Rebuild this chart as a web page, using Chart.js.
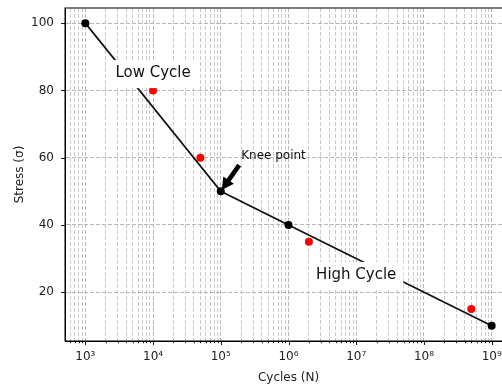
<!DOCTYPE html>
<html>
<head>
<meta charset="utf-8">
<script src="https://cdn.jsdelivr.net/npm/chart.js@4"></script>
<style>
  html, body { margin: 0; padding: 0; background: #fff; overflow: hidden; }
  #wrap { width: 530px; height: 390px; }
</style>
</head>
<body>
<div id="wrap"><canvas id="snCurve" width="530" height="390"></canvas></div>
<script>
// S-N curve data
const fitCycles = [1e3, 1e5, 1e6, 1e9];
const fitStress = [100, 50, 40, 10];
const testCycles = [1e4, 5e4, 2e6, 5e8];
const testStress = [80, 60, 35, 15];
const xExponents = [3, 4, 5, 6, 7, 8, 9];
const yTicks = [20, 40, 60, 80, 100];
const notes = [
  { text: 'Low Cycle', x: 1e4, y: 85 },
  { text: 'High Cycle', x: 1e7, y: 25 }
];
const knee = { text: 'Knee point', x: 2e5, y: 60, toX: 1e5, toY: 50 };

const sup = { '0': '⁰', '1': '¹', '2': '²', '3': '³', '4': '⁴', '5': '⁵', '6': '⁶', '7': '⁷', '8': '⁸', '9': '⁹' };
const FONT = 'DejaVu Sans';
const xMin = Math.pow(10, 2.7), xMax = Math.pow(10, 9.3);

function isMajor(v) {
  const e = Math.log10(v);
  return Math.abs(e - Math.round(e)) < 1e-9;
}

function noPad(scale) {
  scale.paddingTop = 0;
  scale.paddingBottom = 0;
  scale.paddingLeft = 0;
  scale.paddingRight = 0;
}

const annotatePlugin = {
  id: 'annotate',
  afterDatasetsDraw(chart) {
    const { ctx, chartArea: a, scales: { x, y } } = chart;
    ctx.save();
    // top and right spines
    ctx.strokeStyle = '#000';
    ctx.lineWidth = 1;
    ctx.strokeRect(a.left, a.top, a.right - a.left, a.bottom - a.top);

    // tick marks
    ctx.beginPath();
    x.ticks.forEach(t => {
      const px = Math.round(x.getPixelForValue(t.value)) + 0.5;
      const len = isMajor(t.value) ? 4 : 2.2;
      ctx.moveTo(px, a.bottom);
      ctx.lineTo(px, a.bottom + len);
    });
    y.ticks.forEach(t => {
      const py = Math.round(y.getPixelForValue(t.value)) + 0.5;
      ctx.moveTo(a.left, py);
      ctx.lineTo(a.left - 4, py);
    });
    ctx.lineWidth = 0.9;
    ctx.stroke();

    // boxed labels
    ctx.font = '15px "' + FONT + '"';
    ctx.textAlign = 'center';
    ctx.textBaseline = 'middle';
    notes.forEach(n => {
      const px = x.getPixelForValue(n.x);
      const py = y.getPixelForValue(n.y);
      const w = ctx.measureText(n.text).width + 14;
      const h = 28;
      ctx.fillStyle = '#fff';
      ctx.fillRect(px - w / 2, py - h / 2 + 0.5, w, h);
      ctx.fillStyle = '#111';
      ctx.fillText(n.text, px, py);
    });

    // knee annotation
    const tx = x.getPixelForValue(knee.x);
    const ty = y.getPixelForValue(knee.y);
    ctx.font = '12px "' + FONT + '"';
    ctx.textAlign = 'left';
    ctx.textBaseline = 'alphabetic';
    ctx.fillStyle = '#111';
    ctx.fillText(knee.text, tx, ty + 1.5);

    const ex = x.getPixelForValue(knee.toX);
    const ey = y.getPixelForValue(knee.toY);
    const sx = tx - 1, sy = ty + 6;
    const dx = ex - sx, dy = ey - sy;
    const L = Math.hypot(dx, dy);
    const ux = dx / L, uy = dy / L;
    const sh = 0.05 * L;
    const ax = sx + ux * sh, ay = sy + uy * sh;
    const bx = ex - ux * sh, by = ey - uy * sh;
    const nx = -uy, ny = ux;
    const hw = 6.5, sw = 2.3, hl = 12;
    const hx = bx - ux * hl, hy = by - uy * hl;
    ctx.beginPath();
    ctx.moveTo(ax + nx * sw, ay + ny * sw);
    ctx.lineTo(hx + nx * sw, hy + ny * sw);
    ctx.lineTo(hx + nx * hw, hy + ny * hw);
    ctx.lineTo(bx, by);
    ctx.lineTo(hx - nx * hw, hy - ny * hw);
    ctx.lineTo(hx - nx * sw, hy - ny * sw);
    ctx.lineTo(ax - nx * sw, ay - ny * sw);
    ctx.closePath();
    ctx.fillStyle = '#000';
    ctx.fill();
    ctx.restore();
  }
};

new Chart(document.getElementById('snCurve'), {
  type: 'line',
  data: {
    datasets: [
      {
        label: 'S-N curve',
        data: fitCycles.map((c, i) => ({ x: c, y: fitStress[i] })),
        borderColor: '#111',
        backgroundColor: '#000',
        borderWidth: 1.7,
        pointRadius: 4,
        pointBorderWidth: 0,
        tension: 0
      },
      {
        label: 'Test data',
        data: testCycles.map((c, i) => ({ x: c, y: testStress[i] })),
        showLine: false,
        backgroundColor: '#ff0000',
        borderColor: '#ff0000',
        pointRadius: 4,
        pointBorderWidth: 0
      }
    ]
  },
  options: {
    responsive: false,
    animation: false,
    layout: { padding: { left: 0, top: 8, right: 18, bottom: 0 } },
    plugins: { legend: { display: false }, tooltip: { enabled: false } },
    scales: {
      x: {
        type: 'logarithmic',
        min: xMin,
        max: xMax,
        afterBuildTicks(scale) {
          const ticks = [];
          for (let e = 2; e <= 9; e++) {
            for (let m = 1; m <= 9; m++) {
              const v = m * Math.pow(10, e);
              if (v >= xMin && v <= xMax) ticks.push({ value: v });
            }
          }
          scale.ticks = ticks;
        },
        afterFit(scale) { scale.height = 49; noPad(scale); },
        ticks: {
          autoSkip: false,
          maxRotation: 0,
          padding: 9,
          color: '#222',
          font: { family: FONT, size: 12 },
          callback(v) {
            if (!isMajor(v)) return '';
            const e = Math.round(Math.log10(v));
            if (!xExponents.includes(e)) return '';
            return '10' + String(e).split('').map(d => sup[d]).join('');
          }
        },
        grid: {
          drawTicks: false,
          color: ctx => isMajor(ctx.tick.value) ? '#b0b0b0' : '#bdbdbd',
          lineWidth: ctx => isMajor(ctx.tick.value) ? 0.9 : 0.8
        },
        border: { display: true, color: '#000', width: 1, dash: [4, 2] },
        title: {
          display: true,
          text: 'Cycles (N)',
          color: '#222',
          font: { family: FONT, size: 12 },
          padding: { top: 0, bottom: 5 }
        }
      },
      y: {
        type: 'linear',
        min: 5.5,
        max: 104.5,
        afterBuildTicks(scale) {
          scale.ticks = yTicks.map(v => ({ value: v }));
        },
        afterFit(scale) { scale.width = 65; noPad(scale); },
        ticks: {
          padding: 11,
          color: '#222',
          font: { family: FONT, size: 12 }
        },
        grid: {
          drawTicks: false,
          color: '#b0b0b0',
          lineWidth: 0.9
        },
        border: { display: true, color: '#000', width: 1, dash: [4, 2] },
        title: {
          display: true,
          text: 'Stress (σ)',
          color: '#222',
          font: { family: FONT, size: 12 },
          padding: { top: 13, bottom: 0 }
        }
      }
    }
  },
  plugins: [annotatePlugin]
});
</script>
</body>
</html>
